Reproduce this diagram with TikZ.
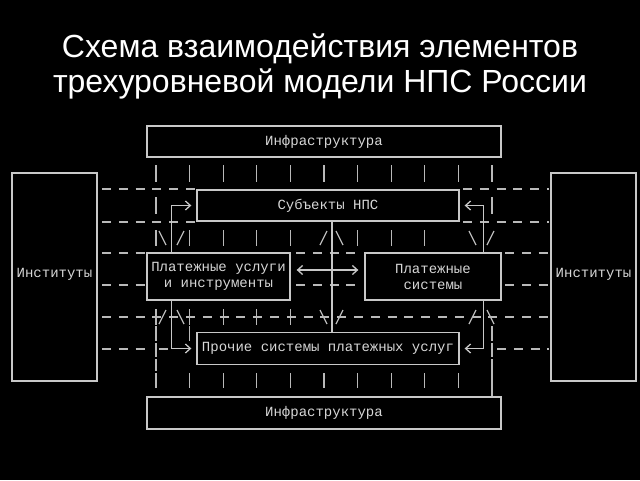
\documentclass[tikz,border=0pt]{standalone}
\usepackage{fontspec}
\setmainfont{Liberation Sans}
\newfontfamily\monof{Liberation Mono}
\usetikzlibrary{arrows.meta}
\definecolor{boxgray}{RGB}{200,200,200}
\definecolor{gridgray}{RGB}{185,185,185}
\definecolor{txtgray}{RGB}{215,215,215}
\begin{document}
\begin{tikzpicture}[x=1pt,y=-1pt,
  box/.style={draw=boxgray, line width=1.3pt, inner sep=0pt, text=txtgray,
    font=\monof\fontsize{14}{16}\selectfont, align=center},
  conn/.style={draw=boxgray, line width=1.3pt},
  gridline/.style={draw=gridgray, line width=1.3pt},
  dashrow/.style={gridline, dash pattern=on 9pt off 7.8pt},
  tip/.style={-{Straight Barb[length=5pt,width=9pt]}},
  titletext/.style={text=white, font=\fontsize{32}{36}\selectfont, anchor=base, inner sep=0pt}]
\fill[black] (0,0) rectangle (640,480);
\useasboundingbox (0,0) rectangle (640,480);

% title
\node[titletext] (title1) at (320,57) {Схема взаимодействия элементов};
\node[titletext] (title2) at (320,92) {трехуровневой модели НПС России};

% dashed rows
\draw[dashrow] (102,189) -- (195,189);
\draw[dashrow] (463,189) -- (549,189);
\draw[dashrow] (102,222) -- (195,222);
\draw[dashrow] (463,222) -- (549,222);
\draw[dashrow] (102,253) -- (145,253);
\draw[dashrow] (296,253) -- (362,253);
\draw[dashrow] (505,253) -- (549,253);
\draw[dashrow] (102,285) -- (145,285);
\draw[dashrow] (296,285) -- (362,285);
\draw[dashrow] (505,285) -- (549,285);
\draw[dashrow] (102,317) -- (549,317);
\draw[dashrow] (102,349) -- (150,349);
\draw[gridline] (159,349) -- (168,349);
\draw[dashrow] (497,349) -- (549,349);

% vertical ticks
\foreach \i in {0,...,10} \draw[gridline] ({156+33.6*\i},165) -- ++(0,17);
\foreach \x in {156,492} \draw[gridline] (\x,197) -- ++(0,17);
\foreach \x in {156,189.6,223.2,256.8,290.4,357.6,391.2,424.8} \draw[gridline] (\x,230) -- ++(0,16);
\foreach \x in {156,189.6,223.2,256.8,290.4} \draw[gridline] (\x,309) -- ++(0,16);
\foreach \x in {156,189.6,492} \draw[gridline] (\x,326) -- ++(0,15);
\foreach \x in {156,492} \draw[gridline] (\x,343) -- ++(0,14);
\draw[gridline] (156,359) -- (156,371);
\foreach \i in {0,...,9} \draw[gridline] ({156+33.6*\i},373) -- ++(0,15);
\draw[gridline] (492,359) -- (492,397);

% slashes
\draw[gridline] (159,231) -- (166,245);
\draw[gridline] (184,231) -- (177,245);
\draw[gridline] (327,231) -- (320,245);
\draw[gridline] (336,231) -- (343,245);
\draw[gridline] (469,231) -- (476,245);
\draw[gridline] (494,231) -- (487,245);
\draw[gridline] (166,310) -- (159,324);
\draw[gridline] (177,310) -- (184,324);
\draw[gridline] (320,310) -- (327,324);
\draw[gridline] (343,310) -- (336,324);
\draw[gridline] (476,310) -- (469,324);
\draw[gridline] (487,310) -- (494,324);

% boxes
\node[box, fill=black, minimum width=354pt, minimum height=31pt] (infraT) at (324,141.5) {Инфраструктура};
\node[box, fill=black, minimum width=85pt, minimum height=208pt] (instL) at (54.5,277) {\raisebox{8pt}{Институты}};
\node[box, fill=black, minimum width=85pt, minimum height=208pt] (instR) at (593.5,277) {\raisebox{8pt}{Институты}};
\node[box, fill=black, minimum width=262pt, minimum height=31pt] (subj) at (328,205.5) {Субъекты НПС};
\node[box, fill=black, minimum width=143pt, minimum height=47pt] (psu) at (218.5,276.5) {Платежные услуги\\и инструменты};
\node[box, fill=black, minimum width=136pt, minimum height=47pt] (ps) at (433,276.5) {Платежные\\системы};
\node[box, fill=black, minimum width=262pt, minimum height=32pt] (other) at (328,348.5) {Прочие системы платежных услуг};
\node[box, fill=black, minimum width=354pt, minimum height=32pt] (infraB) at (324,413) {Инфраструктура};

% connectors
\draw[conn, tip, shorten >=5pt] ([xshift=25pt]psu.north west) |- (subj.west);
\draw[conn, tip, shorten >=5pt] ([xshift=-18pt]ps.north east) |- (subj.east);
\draw[conn, tip, shorten >=5pt] ([xshift=25pt]psu.south west) |- (other.west);
\draw[conn, tip, shorten >=5pt] ([xshift=-18pt]ps.south east) |- (other.east);
\draw[conn, {Straight Barb[length=5pt,width=9pt]}-{Straight Barb[length=5pt,width=9pt]}, shorten <=6pt, shorten >=6pt]
  ([yshift=6.5pt]psu.east) -- ([yshift=6.5pt]ps.west);
\draw[conn] ([xshift=4pt]subj.south) -- ([xshift=4pt]other.north);
\end{tikzpicture}
\end{document}
